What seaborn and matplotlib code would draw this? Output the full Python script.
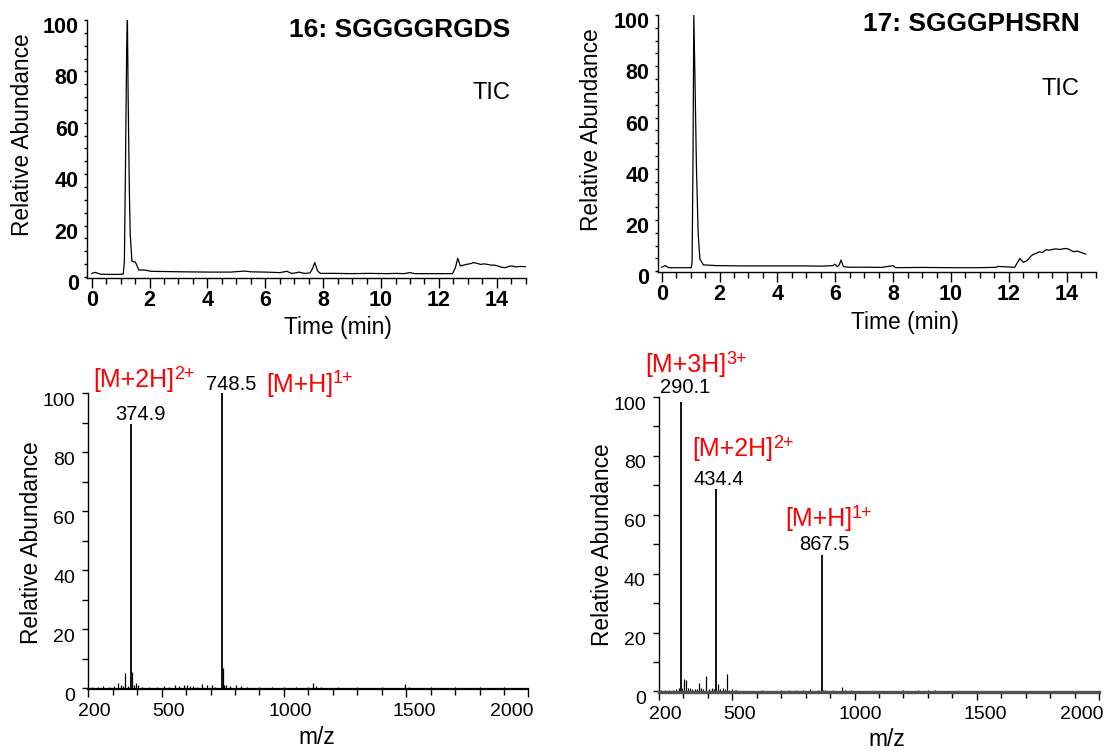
import numpy as np
import pandas as pd
import matplotlib
matplotlib.use("Agg")
import matplotlib.pyplot as plt
import seaborn as sns
from matplotlib.ticker import MultipleLocator, FixedLocator
from matplotlib.transforms import ScaledTranslation

# ---------------- data ----------------
# TIC of peptide 16
tic16_time = [0.0, 0.12, 0.3, 0.6, 0.9, 1.09, 1.13, 1.17, 1.21, 1.235, 1.26, 1.3, 1.33, 1.39, 1.45,
              1.51, 1.57, 1.63, 1.82, 2.06, 2.6, 3.2, 4.1, 4.8, 5.3, 5.5, 6.0, 6.5, 6.75, 6.9, 7.05,
              7.17, 7.3, 7.4, 7.55, 7.63, 7.71, 7.81, 7.9, 8.4, 8.96, 9.6, 10.2, 10.53, 10.8, 11.0,
              11.15, 11.8, 12.47, 12.57, 12.65, 12.74, 12.85, 12.95, 13.1, 13.2, 13.32, 13.44, 13.56,
              13.68, 13.8, 13.92, 14.04, 14.16, 14.29, 14.41, 14.53, 14.65, 14.8, 15.0]
tic16_abund = [1.4, 1.8, 1.1, 1.0, 1.0, 1.1, 6.0, 45.0, 90.0, 100.0, 70.0, 35.0, 17.0, 6.2, 5.9,
               5.8, 4.3, 2.7, 2.7, 2.2, 2.1, 2.0, 1.9, 1.9, 2.3, 2.0, 1.9, 1.7, 2.2, 1.4, 1.6,
               1.9, 1.5, 1.4, 1.6, 3.2, 5.6, 2.3, 1.4, 1.4, 1.3, 1.4, 1.3, 1.4, 1.3, 1.7,
               1.3, 1.3, 1.3, 3.6, 7.3, 4.3, 4.6, 4.9, 5.2, 5.6, 5.3, 4.9, 5.1,
               4.9, 4.6, 4.6, 4.3, 3.8, 3.6, 4.1, 4.3, 3.9, 4.1, 4.0]

# TIC of peptide 17
tic17_time = [0.0, 0.12, 0.24, 0.6, 1.02, 1.05, 1.08, 1.11, 1.15, 1.2, 1.26, 1.32, 1.44, 1.91,
              2.8, 3.8, 4.9, 5.5, 5.92, 5.98, 6.07, 6.14, 6.2, 6.28, 6.46, 7.0, 7.6, 8.0, 8.08,
              9.0, 10.0, 11.0, 11.55, 11.62, 12.2, 12.3, 12.38, 12.5, 12.6, 12.68, 12.77, 12.86,
              12.95, 13.04, 13.16, 13.28, 13.4, 13.52, 13.64, 13.76, 13.88, 14.0, 14.12, 14.24,
              14.36, 14.48, 14.58, 14.66]
tic17_abund = [1.55, 2.2, 1.4, 1.4, 1.4, 3.5, 40.0, 100.0, 75.0, 41.0, 15.0, 4.8, 2.5, 2.2,
               2.1, 2.1, 2.1, 2.0, 2.2, 2.8, 1.8, 2.6, 4.4, 1.8, 1.55, 1.6, 1.5, 2.2, 1.4,
               1.5, 1.4, 1.4, 1.55, 1.9, 1.55, 3.5, 5.0, 3.5, 4.0, 4.8, 6.0, 6.7,
               7.0, 7.6, 7.3, 8.4, 8.2, 8.6, 8.7, 8.5, 8.8, 8.9, 8.3, 7.6,
               7.9, 7.4, 7.0, 6.7]

# mass spectrum of peptide 16 (m/z, relative abundance)
ms16_mz = [215, 240, 261, 285, 305, 322, 333, 341, 350, 362, 374.9, 377, 386, 395, 404, 420,
           450, 480, 510, 530, 554, 570, 591, 602, 615, 629, 645, 663, 684, 704, 720, 748.5,
           749.5, 755, 765, 780, 806, 826, 850, 900, 950, 1000, 1050, 1100, 1121, 1133, 1150,
           1220, 1300, 1400, 1497, 1510, 1600, 1700, 1800, 1900]
ms16_int = [0.4, 0.5, 0.8, 0.4, 0.6, 1.7, 1.2, 0.7, 5.1, 0.6, 89.6, 5.4, 1.2, 1.6, 1.0, 0.5,
            0.4, 0.5, 0.6, 0.5, 0.9, 0.6, 0.9, 0.9, 0.6, 0.8, 0.5, 1.3, 0.9, 0.9, 0.5, 100.0,
            6.8, 1.2, 1.1, 0.6, 1.1, 0.8, 0.4, 0.4, 0.3, 0.3, 0.4, 0.5, 1.7, 0.6, 0.4,
            0.5, 0.3, 0.3, 1.5, 0.4, 0.3, 0.3, 0.3, 0.3]

# mass spectrum of peptide 17
ms17_mz = [210, 225, 240, 258, 270, 283, 290.1, 296, 303, 310, 318, 326, 335, 347, 355, 364,
           373, 382, 394, 405, 415, 425, 434.4, 440, 450, 460, 470, 479, 488, 497, 510, 517,
           540, 580, 620, 660, 700, 730, 760, 790, 817, 850, 867.5, 872, 880, 910, 947, 960,
           985, 1050, 1120, 1200, 1260, 1300, 1330, 1400, 1500, 1600, 1700, 1800, 1900, 1990]
ms17_int = [0.4, 0.6, 0.5, 0.6, 0.9, 1.3, 98.3, 1.0, 4.2, 3.8, 1.0, 1.2, 0.8, 0.9, 0.7, 3.0,
            1.3, 0.8, 5.1, 0.9, 1.2, 0.8, 68.8, 2.5, 0.9, 1.0, 0.7, 5.9, 0.6, 0.7, 0.5, 0.5,
            0.3, 0.3, 0.4, 0.3, 0.4, 0.5, 0.4, 0.6, 0.8, 0.4, 46.2, 0.6, 0.5, 0.4, 1.4, 0.5,
            0.4, 0.3, 0.3, 0.4, 0.4, 0.5, 0.4, 0.3, 0.3, 0.3, 0.3, 0.3, 0.3, 0.3]

titles = ["16: SGGGGRGDS", "17: SGGGPHSRN"]
tic_ticks_major = [0, 2, 4, 6, 8, 10, 12, 14]
ms_ticks = [200, 500, 1000, 1500, 2000]

# ion annotations: (ion, charge superscript, m/z, abundance)
ions16 = [("[M+2H]", "2+", 222, 102.1),
          ("[M+H]", "1+", 928, 100.6)]
ions17 = [("[M+3H]", "3+", 145, 108.6),
          ("[M+2H]", "2+", 338, 79.8),
          ("[M+H]", "1+", 716, 56.1)]
# peak value labels: (label, m/z, abundance)
peaks16 = [("374.9", 412, 90.8), ("748.5", 786, 101.2)]
peaks17 = [("290.1", 306, 101.2), ("434.4", 445, 70.0), ("867.5", 878, 48.0)]

# ---------------- style ----------------
sns.set_theme(style="ticks")
plt.rcParams["font.family"] = ["Liberation Sans", "DejaVu Sans"]
for k in ("text.color", "axes.labelcolor", "axes.edgecolor", "xtick.color", "ytick.color"):
    plt.rcParams[k] = "black"

fig = plt.figure(figsize=(11.05, 7.51), dpi=100)
W, H = 1105.0, 751.0

def px_axes(l, t, r, b):
    return fig.add_axes([l / W, 1 - b / H, (r - l) / W, (b - t) / H])

ax_tl = px_axes(87, 20, 526, 278)
ax_tr = px_axes(657.5, 15, 1095.7, 272.3)
ax_bl = px_axes(88.3, 393.3, 528.4, 689)
ax_br = px_axes(659, 397, 1099, 692.3)


def shift_labels(ax, axis, dxs, dy):
    ticks = ax.xaxis.get_major_ticks() if axis == "x" else ax.yaxis.get_major_ticks()
    for i, tk in enumerate(ticks):
        dx = dxs[i] if isinstance(dxs, (list, tuple)) else dxs
        tk.label1.set_transform(tk.label1.get_transform() +
                                ScaledTranslation(dx / 100.0, -dy / 100.0, fig.dpi_scale_trans))


def style_tic(ax, t, a, title, xlim, title_xy, tic_xy, ylab_coords, xlab_coords):
    df = pd.DataFrame({"t": t, "a": a})
    sns.lineplot(data=df, x="t", y="a", ax=ax, color="black", linewidth=0.9,
                 estimator=None, sort=False)
    ax.set_xlim(*xlim)
    ax.set_ylim(-0.4, 100)
    ax.xaxis.set_major_locator(FixedLocator(tic_ticks_major))
    ax.xaxis.set_minor_locator(MultipleLocator(0.5))
    ax.yaxis.set_major_locator(MultipleLocator(20))
    ax.yaxis.set_minor_locator(MultipleLocator(5))
    sns.despine(ax=ax)
    for s in ("left", "bottom"):
        ax.spines[s].set_linewidth(1.0)
    ax.tick_params(axis="x", which="major", length=7, width=1.0, pad=1.5, labelsize=15.5)
    ax.tick_params(axis="x", which="minor", length=4, width=1.0)
    ax.tick_params(axis="y", which="both", length=2.5, width=1.0, pad=3.5, labelsize=15.5)
    for lab in ax.get_xticklabels() + ax.get_yticklabels():
        lab.set_fontweight("bold")
    ax.set_xlabel("Time (min)", fontsize=16.4)
    ax.set_ylabel("Relative Abundance", fontsize=16.4)
    ax.yaxis.set_label_coords(*ylab_coords)
    ax.xaxis.set_label_coords(*xlab_coords)
    ax.text(title_xy[0], title_xy[1], title, fontsize=19, fontweight="bold",
            ha="right", va="center")
    ax.text(tic_xy[0], tic_xy[1], "TIC", fontsize=17, ha="right", va="center")
    shift_labels(ax, "y", 0, 5)


def style_ms(ax, mz, inten, ions, peaks, ylab_coords, xlab_coords, spine_w, spine_c):
    mz = np.asarray(mz, dtype=float)
    inten = np.asarray(inten, dtype=float)
    big = inten > 20
    ax.vlines(mz[~big], 0, inten[~big], color="black", linewidth=0.9)
    ax.vlines(mz[big], 0, inten[big], color="black", linewidth=1.3)
    ax.set_xlim(200, 2000)
    ax.set_ylim(-0.3, 100)
    ax.xaxis.set_major_locator(FixedLocator(ms_ticks))
    ax.xaxis.set_minor_locator(MultipleLocator(100))
    ax.yaxis.set_major_locator(MultipleLocator(20))
    ax.yaxis.set_minor_locator(MultipleLocator(10))
    sns.despine(ax=ax)
    ax.spines["left"].set_linewidth(1.0)
    ax.spines["bottom"].set_linewidth(spine_w)
    ax.spines["bottom"].set_color(spine_c)
    ax.tick_params(axis="x", which="major", length=6, width=1.0, pad=4, labelsize=14)
    ax.tick_params(axis="x", which="minor", length=4, width=1.0)
    ax.tick_params(axis="y", which="both", length=4.5, width=1.0, pad=5, labelsize=14)
    ax.set_xlabel("m/z", fontsize=16.4)
    ax.set_ylabel("Relative Abundance", fontsize=16.4)
    ax.yaxis.set_label_coords(*ylab_coords)
    ax.xaxis.set_label_coords(*xlab_coords)
    for ion, chg, x, y in ions:
        t = ax.text(x, y, ion, color="red", fontsize=18, ha="left", va="baseline",
                    clip_on=False)
        ax.annotate(chg, xy=(1, 0.38), xycoords=t, xytext=(-0.3, 0),
                    textcoords="offset points", color="red", fontsize=13,
                    ha="left", va="bottom", annotation_clip=False)
    for lab, x, y in peaks:
        ax.text(x, y, lab, color="black", fontsize=14.5, ha="center", va="baseline",
                clip_on=False)
    shift_labels(ax, "x", [6, 7, 6, 8, -17], 0)
    shift_labels(ax, "y", 0, 6)


style_tic(ax_tl, tic16_time, tic16_abund, titles[0], (-0.162, 15.01),
          (14.48, 96.1), (14.48, 71.6), (-0.121, 0.554), (0.571, -0.148))
style_tic(ax_tr, tic17_time, tic17_abund, titles[1], (-0.145, 15.0),
          (14.44, 96.5), (14.44, 71.2), (-0.125, 0.556), (0.565, -0.152))
style_ms(ax_bl, ms16_mz, ms16_int, ions16, peaks16, (-0.104, 0.495), (0.519, -0.124),
         1.6, "black")
style_ms(ax_br, ms17_mz, ms17_int, ions17, peaks17, (-0.103, 0.5), (0.518, -0.121),
         2.4, "#505050")

fig.savefig("out.png", dpi=100)
